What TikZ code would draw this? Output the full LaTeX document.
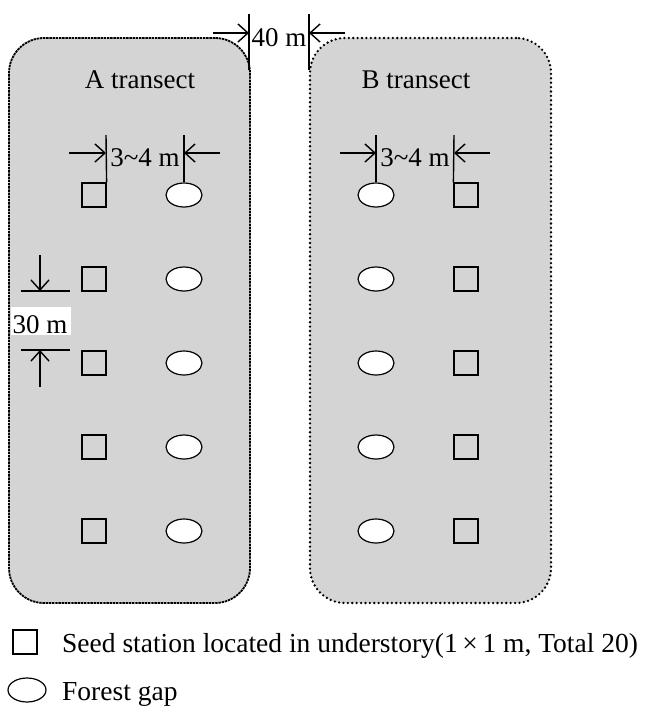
\documentclass[tikz,border=0pt]{standalone}
\usepackage{fontspec}
\setmainfont{Liberation Serif}
\usetikzlibrary{arrows.meta,shapes.geometric}
\definecolor{transectgray}{RGB}{212,212,212}
\begin{document}
\begin{tikzpicture}[x=1pt,y=-1pt,
  font=\fontsize{27}{32}\selectfont,
  transect/.style={fill=transectgray, rounded corners=35pt, minimum width=241pt,
    minimum height=565pt, inner sep=0pt},
  stationbox/.style={draw, line width=1.2pt, minimum size=24pt, inner sep=0pt},
  gapell/.style={ellipse, draw, fill=white, line width=1.2pt, minimum width=36pt,
    minimum height=24pt, inner sep=0pt},
  dimline/.style={line width=1.4pt},
  dimarrow/.style={line width=1.4pt,
    -{Straight Barb[length=10pt,width=18pt,line width=1.4pt]}},
  txt/.style={inner sep=0pt, anchor=base},
]
\useasboundingbox (0,0) rectangle (646,706);

% the two transects
\node[transect, draw, line width=1.8pt, dash pattern=on 2.4pt off 0.8pt] (boxA) at (129.5,320.5) {};
\node[transect, draw, line width=2.6pt, line cap=round, dash pattern=on 0pt off 4.4pt] (boxB) at (430.5,320.5) {};

\node[txt] (titleA) at (140,89) {A transect};
\node[txt] (titleB) at (416,89) {B transect};

% seed stations and gaps, five rows
\foreach \r [count=\i] in {195,279,363,447,531} {
  \node[stationbox] (sqA\i) at (94,\r) {};
  \node[gapell] (gapA\i) at (184,\r) {};
  \node[gapell] (gapB\i) at (376,\r) {};
  \node[stationbox] (sqB\i) at (466,\r) {};
}

% 3~4 m spacing in transect A
\coordinate (tickA1) at (106,135);
\coordinate (tickA2) at (184,135);
\coordinate (arrA1) at (69,153);
\coordinate (arrA2) at (220,153);
\draw[dimline] (tickA1) -- (sqA1.north east);
\draw[dimline] (tickA2) -- (gapA1.north);
\draw[dimarrow] (arrA1) -- (tickA1 |- arrA1);
\draw[dimarrow] (arrA2) -- (tickA2 |- arrA2);
\node[txt] (dimA) at (145,166) {3\textasciitilde4 m};

% 3~4 m spacing in transect B
\coordinate (tickB1) at (376,135);
\coordinate (tickB2) at (454,135);
\coordinate (arrB1) at (340,153);
\coordinate (arrB2) at (490,153);
\draw[dimline] (tickB1) -- (gapB1.north);
\draw[dimline] (tickB2) -- (sqB1.north west);
\draw[dimarrow] (arrB1) -- (tickB1 |- arrB1);
\draw[dimarrow] (arrB2) -- (tickB2 |- arrB2);
\node[txt] (dimB) at (415,166) {3\textasciitilde4 m};

% 40 m between the transects
\coordinate (gapTopL) at (249,14);
\coordinate (gapBotL) at (249,70);
\coordinate (gapTopR) at (309,14);
\coordinate (gapBotR) at (309,70);
\coordinate (gapArrL) at (213,33);
\coordinate (gapArrR) at (345,33);
\draw[dimline] (gapTopL) -- (gapBotL);
\draw[dimline] (gapTopR) -- (gapBotR);
\draw[dimarrow] (gapArrL) -- (gapTopL |- gapArrL);
\draw[dimarrow] (gapArrR) -- (gapTopR |- gapArrR);
\node[txt] (dist40) at (279,47) {40 m};

% 30 m between rows
\coordinate (rowL1) at (21,291);
\coordinate (rowR1) at (70,291);
\coordinate (rowL2) at (21,350);
\coordinate (rowR2) at (70,350);
\coordinate (rowArr1) at (40,255);
\coordinate (rowArr2) at (40,387);
\draw[dimline] (rowL1) -- (rowR1);
\draw[dimline] (rowL2) -- (rowR2);
\draw[dimarrow] (rowArr1) -- (rowArr1 |- rowL1);
\draw[dimarrow] (rowArr2) -- (rowArr2 |- rowL2);
\node[fill=white, inner sep=0pt, minimum width=60pt, minimum height=28pt] (dist30box) at (40.5,321) {};
\node[txt] (dist30) at (40,333) {30 m};

% legend
\node[stationbox] (legSq) at (25,642) {};
\node[gapell, minimum width=38pt] (legGap) at (27,690) {};
\node[txt, anchor=base west, font=\fontsize{27.5}{32}\selectfont] (legSqText) at (62,652)
  {Seed station located in understory(1\,×\,1 m, Total 20)};
\node[txt, anchor=base west, font=\fontsize{27.5}{32}\selectfont] (legGapText) at (62,700) {Forest gap};
\end{tikzpicture}
\end{document}
